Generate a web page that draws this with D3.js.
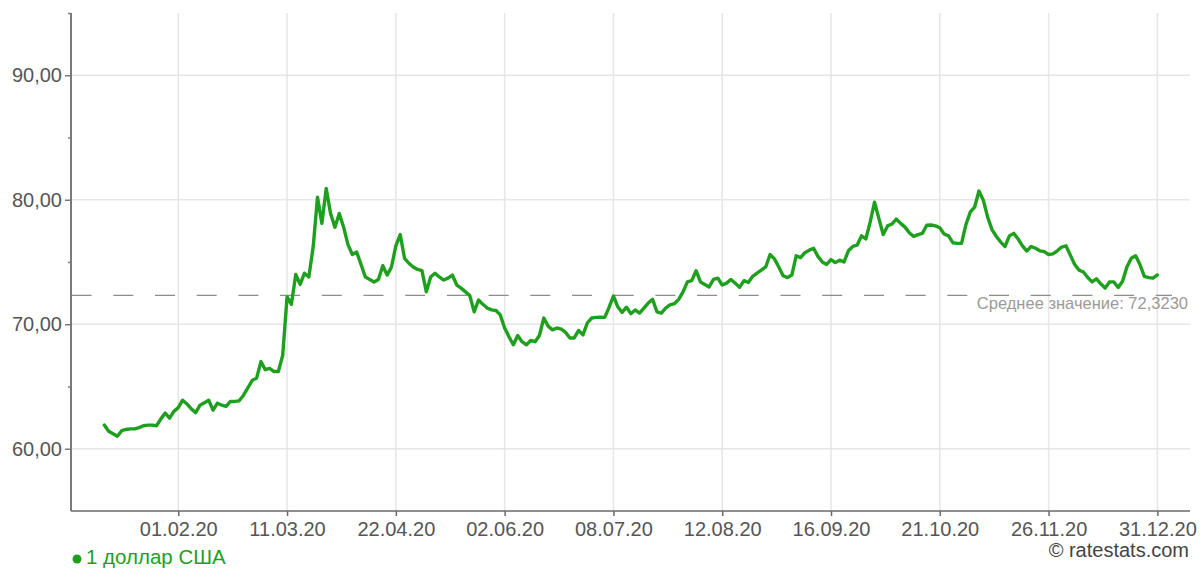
<!DOCTYPE html>
<html><head><meta charset="utf-8">
<script src="https://cdn.jsdelivr.net/npm/d3@7/dist/d3.min.js"></script>
<style>html,body{margin:0;padding:0;background:#fff;}svg{display:block;font-family:"Liberation Sans",Arial,sans-serif;}</style>
</head><body>
<svg id="chart" width="1201" height="568"></svg>
<script>
// Daily USD/RUB rate (1 доллар США), 2020, one value per rate date (index-based axis)
const values = [
61.9,61.4,61.2,61.0,61.45,61.55,61.6,61.6,61.7,61.85,61.9,61.9,61.85,62.4,62.86,62.46,63.0,
63.3,63.9,63.6,63.2,62.9,63.5,63.7,63.9,63.1,63.66,63.5,63.4,63.8,63.8,63.85,64.3,64.9,65.5,65.67,67.0,66.35,66.45,66.2,66.2,67.5,
72.2,71.6,74.0,73.2,74.1,73.8,76.2,80.2,78.1,80.9,78.9,77.8,78.9,77.8,76.4,75.6,75.8,74.8,73.8,73.6,73.4,73.6,74.7,73.95,74.6,
76.3,77.2,75.3,74.9,74.6,74.4,74.3,72.6,73.8,74.1,73.8,73.55,73.7,73.95,73.15,72.9,72.6,72.3,71.0,71.95,71.6,71.3,71.15,71.1,70.75,
69.7,69.0,68.35,69.1,68.6,68.35,68.7,68.6,69.1,70.5,69.85,69.55,69.7,69.6,69.35,68.9,68.9,69.5,69.15,70.1,70.5,70.55,70.57,70.55,71.35,
72.27,71.4,70.95,71.37,70.85,71.15,70.9,71.3,71.7,72.0,71.0,70.9,71.3,71.55,71.65,72.0,72.6,73.4,73.5,74.3,73.4,73.2,73.0,73.6,73.7,
73.15,73.3,73.6,73.3,72.97,73.5,73.35,73.85,74.1,74.35,74.6,75.6,75.25,74.6,73.9,73.75,73.95,75.5,75.35,75.75,75.95,76.1,75.45,75.0,74.8,
75.2,74.95,75.15,75.0,75.9,76.25,76.35,77.1,76.85,78.2,79.8,78.5,77.2,77.9,78.05,78.45,78.1,77.8,77.35,77.05,77.2,77.3,77.95,77.97,77.9,
77.75,77.25,77.1,76.55,76.5,76.5,78.0,79.0,79.4,80.7,79.97,78.6,77.6,77.05,76.6,76.25,77.1,77.3,76.85,76.3,75.88,76.25,76.1,75.9,75.83,
75.6,75.65,75.9,76.2,76.3,75.55,74.8,74.35,74.2,73.75,73.4,73.65,73.25,72.9,73.4,73.4,72.95,73.45,74.6,75.3,75.5,74.8,73.85,73.75,73.7,
73.96
];
const tickIndex  = [17, 42, 67, 92, 117, 142, 167, 192, 217, 242];
const tickLabels = ["01.02.20","11.03.20","22.04.20","02.06.20","08.07.20","12.08.20","16.09.20","21.10.20","26.11.20","31.12.20"];
const yMajor = [60, 70, 80, 90];
const yMinor = [65, 75, 85, 95];
const meanValue = 72.3230;
const seriesName = "1 доллар США";
const meanLabel = "Среднее значение: 72,3230";
const credit = "© ratestats.com";

const svg = d3.select("#chart");
const L = 71, R = 1190, T = 13, B = 511;
const x = d3.scaleLinear().domain([-7.65, 249.5]).range([L, R]);
const y = d3.scaleLinear().domain([55, 95]).range([B, T]);
const fmt = v => d3.format(".2f")(v).replace(".", ",");
const green = "#1ea01e";

// grid
const g = svg.append("g");
g.selectAll(".hg").data(yMajor).join("line")
  .attr("x1", L).attr("x2", R).attr("y1", d => y(d)).attr("y2", d => y(d))
  .attr("stroke", "#e6e6e6").attr("stroke-width", 1.5);
g.selectAll(".vg").data(tickIndex).join("line")
  .attr("x1", d => x(d)).attr("x2", d => x(d)).attr("y1", T).attr("y2", B)
  .attr("stroke", "#e6e6e6").attr("stroke-width", 1.5);

// mean line
svg.append("line").attr("x1", L + 0.6).attr("x2", 1172).attr("y1", y(meanValue)).attr("y2", y(meanValue))
  .attr("stroke", "#8c8c8c").attr("stroke-width", 1.3).attr("stroke-dasharray", "20,21.7");
svg.append("text").attr("x", 1188).attr("y", y(meanValue) + 14).attr("text-anchor", "end")
  .attr("font-size", 16.5).attr("fill", "#9a9a9a").text(meanLabel);

// y axis
const yAxis = svg.append("g").attr("transform", `translate(${L},0)`)
  .call(d3.axisLeft(y).tickValues(yMajor).tickFormat(fmt).tickSize(6).tickPadding(3));
yAxis.select(".domain").attr("stroke", "#7a7a7a").attr("stroke-width", 2).attr("d", `M0,${T}V${B}`);
yAxis.selectAll(".tick line").attr("stroke", "#7a7a7a").attr("stroke-width", 1.5);
yAxis.selectAll(".tick text").attr("font-size", 20).attr("fill", "#555").attr("font-family", "Liberation Sans, Arial, sans-serif");
const yMin = svg.append("g").attr("transform", `translate(${L},0)`)
  .call(d3.axisLeft(y).tickValues(yMinor).tickFormat("").tickSize(3));
yMin.select(".domain").remove();
yMin.selectAll(".tick line").attr("stroke", "#7a7a7a").attr("stroke-width", 1.5);

// x axis
const xAxis = svg.append("g").attr("transform", `translate(0,${B})`)
  .call(d3.axisBottom(x).tickValues(tickIndex).tickFormat((d, i) => tickLabels[i]).tickSize(5).tickPadding(6));
xAxis.select(".domain").attr("stroke", "#6a6a6a").attr("stroke-width", 1.5).attr("d", `M${L},0H${R}`);
xAxis.selectAll(".tick line").attr("stroke", "#6a6a6a").attr("stroke-width", 1.5);
xAxis.selectAll(".tick text").attr("font-size", 20).attr("fill", "#555").attr("font-family", "Liberation Sans, Arial, sans-serif");

// series line
const line = d3.line().x((d, i) => x(i)).y(d => y(d));
svg.append("path").datum(values).attr("d", line).attr("fill", "none")
  .attr("stroke", green).attr("stroke-width", 3.4).attr("stroke-linejoin", "round").attr("stroke-linecap", "round");

// legend
svg.append("circle").attr("cx", 77).attr("cy", 559).attr("r", 4.5).attr("fill", green);
svg.append("text").attr("x", 86).attr("y", 564).attr("font-size", 20.5).attr("fill", green).text(seriesName);
svg.append("text").attr("x", 1189).attr("y", 557).attr("text-anchor", "end").attr("font-size", 20).attr("fill", "#444").text(credit);
</script>
</body></html>
